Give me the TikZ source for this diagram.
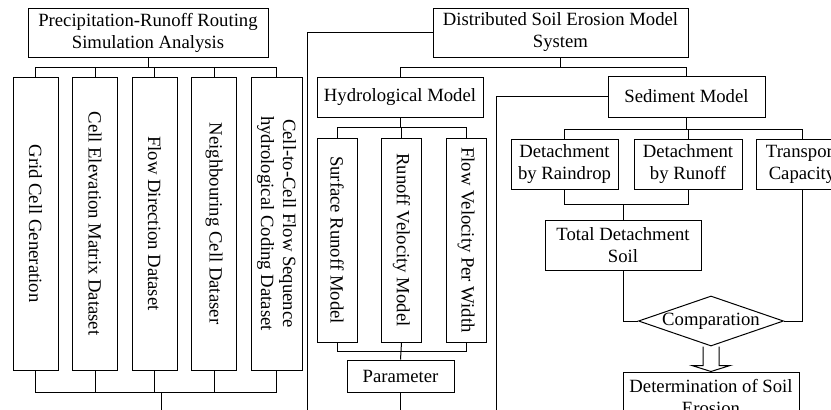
\documentclass[tikz,border=0pt]{standalone}
\usepackage{fontspec}
\setmainfont{Liberation Serif}
\usepackage{graphicx}
\usetikzlibrary{positioning,shapes.geometric}

\begin{document}
\begin{tikzpicture}[x=1pt, y=-1pt, line width=1pt, font=\fontsize{18.7}{22}\selectfont]
	% Define styles for boxes
	\tikzset{
		box/.style={
			rectangle,
			draw,
			inner sep=0pt,
			align=center
		},
		colbox/.style={box, minimum width=45pt, minimum height=293pt},
		modelcol/.style={box, minimum width=40pt, minimum height=204pt},
		decision/.style={diamond, draw, aspect=2.9, inner sep=0pt}
	}
	\useasboundingbox (0,0) rectangle (831,410);
	\clip (0,0) rectangle (831,410);
	
	% Nodes for Routing Analysis
	\node[box, minimum width=240pt, minimum height=49pt] (routing) at (148,32.5) {Precipitation-Runoff Routing\\Simulation Analysis};
	\node[colbox] (grid) at (35.5,223.5) {\rotatebox{-90}{Grid Cell Generation}};
	\node[colbox, right=13.5pt of grid] (elev) {\rotatebox{-90}{Cell Elevation Matrix Dataset}};
	\node[colbox, right=13.5pt of elev] (flowdir) {\rotatebox{-90}{Flow Direction Dataset}};
	\node[colbox, right=13.5pt of flowdir] (neigh) {\rotatebox{-90}{Neighbouring Cell Dataser}};
	\node[colbox, right=13.5pt of neigh, minimum width=51pt] (sequence) {\rotatebox{-90}{\begin{tabular}{@{}c@{}}Cell-to-Cell Flow Sequence\\hydrological Coding Dataset\end{tabular}}};
	
	% Lines for Routing Analysis
	\coordinate (routingtop) at (0,67);
	\coordinate (routingbot) at (0,392);
	\coordinate (routingout) at (161,420);
	\draw (routing.south) -- (routing.south |- routingtop);
	\draw (grid.north) -- (grid.north |- routingtop) -- (sequence.north |- routingtop) -- (sequence.north);
	\draw (grid.south) -- (grid.south |- routingbot) -- (sequence.south |- routingbot) -- (sequence.south);
	\foreach \n in {elev,flowdir,neigh} {
		\draw (\n.north) -- (\n.north |- routingtop);
		\draw (\n.south) -- (\n.south |- routingbot);
	}
	\draw (routingout |- routingbot) -- (routingout);
	
	% Nodes for Erosion Model
	\node[box, minimum width=255pt, minimum height=49pt] (erosion) at (560.5,32.5) {Distributed Soil Erosion Model\\System};
	\node[box, minimum width=166pt, minimum height=40pt] (hydro) at (400,97) {Hydrological Model};
	\node[box, minimum width=157pt, minimum height=41pt] (sediment) at (686.5,96.5) {Sediment Model};
	
	% Lines for Erosion Model
	\coordinate (erosionbus) at (0,67);
	\coordinate (leftout) at (307,420);
	\coordinate (midout) at (496,420);
	\draw (erosion.west) -| (leftout);
	\draw (erosion.south) -- (erosion.south |- erosionbus);
	\draw (hydro.north) -- (hydro.north |- erosionbus) -- (sediment.north |- erosionbus) -- (sediment.north);
	\draw (sediment.west) -| (midout);
	
	% Nodes for Hydrological Model
	\node[modelcol] (surface) at (337,240) {\rotatebox{-90}{Surface Runoff Model}};
	\node[modelcol, right=23.5pt of surface] (velocity) {\rotatebox{-90}{Runoff Velocity Model}};
	\node[modelcol, right=23.5pt of velocity] (perwidth) {\rotatebox{-90}{Flow Velocity Per Width}};
	\node[box, minimum width=107pt, minimum height=32pt] (param) at (400.5,376) {Parameter};
	
	% Lines for Hydrological Model
	\coordinate (hydrotop) at (0,127);
	\coordinate (hydrobot) at (0,351);
	\coordinate (paramout) at (400.5,420);
	\draw (hydro.south) -- (hydro.south |- hydrotop);
	\draw (surface.north) |- (perwidth.north |- hydrotop) -- (perwidth.north);
	\draw (velocity.north) -- (velocity.north |- hydrotop);
	\draw (surface.south) |- (perwidth.south |- hydrobot) -- (perwidth.south);
	\draw (velocity.south) -- (param.north);
	\draw (param.south) -- (paramout);
	
	% Nodes for Sediment Model
	\node[box, minimum width=107pt, minimum height=50pt] (raindrop) at (564.5,164) {Detachment\\by Raindrop};
	\node[box, minimum width=108pt, minimum height=50pt, right=15pt of raindrop] (runoffdet) {Detachment\\by Runoff};
	\node[box, minimum width=92pt, minimum height=50pt, right=13pt of runoffdet] (transport) {Transport\\Capacity};
	\node[box, minimum width=156pt, minimum height=50pt] (total) at (623,245) {Total Detachment\\Soil};
	\node[decision] (compare) at (711,321) {Comparation};
	\node[box, minimum width=176pt, minimum height=50pt] (result) at (711,397) {Determination of Soil\\Erosion};
	
	% Lines for Sediment Model
	\coordinate (sedbus) at (0,129);
	\coordinate (detbus) at (0,204);
	\draw (sediment.south) -- (sediment.south |- sedbus);
	\draw (raindrop.north) |- (transport.north |- sedbus) -- (transport.north);
	\draw (runoffdet.north) -- (runoffdet.north |- sedbus);
	\draw (raindrop.south) |- (runoffdet.south |- detbus) -- (runoffdet.south);
	\draw (total.north) -- (total.north |- detbus);
	\draw (total.south) |- (compare.west);
	\draw (transport.south) |- (compare.east);
	
	% hollow arrow to result
	\draw ([xshift=-8pt]compare.south) -- ([xshift=-8pt,yshift=-19pt]compare.south) -- ([xshift=-19pt,yshift=-19pt]compare.south) -- (result.north) -- ([xshift=19pt,yshift=-19pt]compare.south) -- ([xshift=8pt,yshift=-19pt]compare.south) -- ([xshift=8pt]compare.south);
\end{tikzpicture}
\end{document}
